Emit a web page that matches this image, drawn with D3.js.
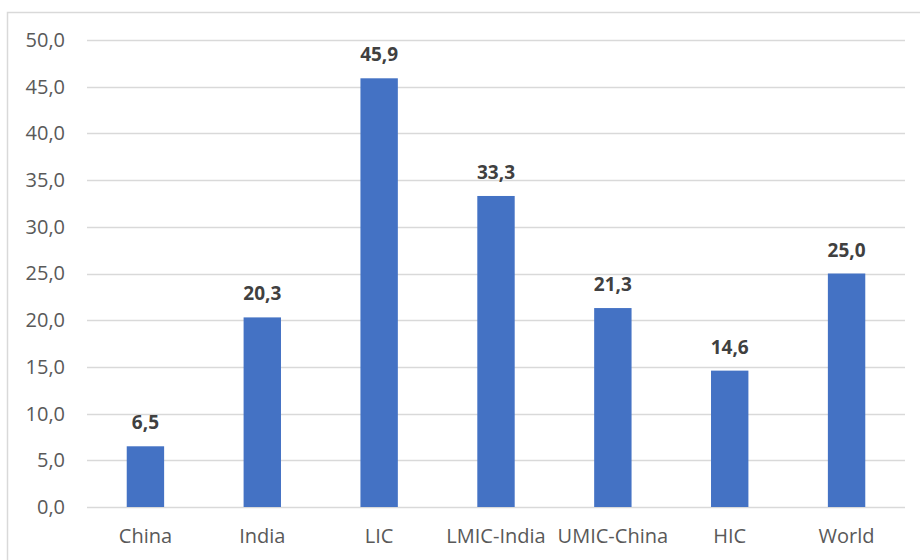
<!DOCTYPE html>
<html>
<head>
<meta charset="utf-8">
<script src="https://cdn.jsdelivr.net/npm/d3@7"></script>
<style>
  body { margin: 0; background: #fff; }
  svg { display: block; }
  svg text { font-family: "Open Sans", "Noto Sans", sans-serif; }
</style>
</head>
<body>
<svg id="chart"></svg>
<script>
// data
const categories = ["China", "India", "LIC", "LMIC-India", "UMIC-China", "HIC", "World"];
const values = [6.5, 20.3, 45.9, 33.3, 21.3, 14.6, 25.0];
const yTicks = [0, 5, 10, 15, 20, 25, 30, 35, 40, 45, 50];

const W = 920, H = 560;
const margin = { top: 40, right: 15, bottom: 53, left: 87 };
const width = W - margin.left - margin.right;
const height = H - margin.top - margin.bottom;

const fmt = (v) => v.toFixed(1).replace(".", ",");

const svg = d3.select("#chart").attr("width", W).attr("height", H);

// rahmen
svg.append("rect")
  .attr("x", 7.5).attr("y", 12.5)
  .attr("width", W).attr("height", H)
  .attr("fill", "none").attr("stroke", "#d9d9d9").attr("stroke-width", 1.5);

const g = svg.append("g").attr("transform", "translate(" + margin.left + "," + margin.top + ")");

const x = d3.scaleBand().domain(categories).range([0, width]).paddingInner(0.68).paddingOuter(0.34);
const y = d3.scaleLinear().domain([0, 50]).range([height, 0]);

// gitterlinien
g.selectAll(".grid")
  .data(yTicks)
  .enter()
  .append("line")
  .attr("x1", 0).attr("x2", width)
  .attr("y1", (d) => Math.round(y(d)) + 0.5)
  .attr("y2", (d) => Math.round(y(d)) + 0.5)
  .attr("stroke", "#d9d9d9").attr("stroke-width", 1.5);

// y-achse
const yAxis = g.append("g")
  .call(d3.axisLeft(y).tickValues(yTicks).tickFormat(fmt).tickSize(0).tickPadding(22));
yAxis.select(".domain").remove();
yAxis.selectAll("text").attr("fill", "#595959").style("font-size", "20px");

// x-achse
const xAxis = g.append("g")
  .attr("transform", "translate(0," + height + ")")
  .call(d3.axisBottom(x).tickSize(0).tickPadding(22));
xAxis.select(".domain").remove();
xAxis.selectAll("text").attr("fill", "#595959").style("font-size", "20px");

// balken
g.selectAll(".bar")
  .data(values)
  .enter()
  .append("rect")
  .attr("x", (d, i) => x(categories[i]))
  .attr("y", (d) => y(d))
  .attr("width", x.bandwidth())
  .attr("height", (d) => height - y(d))
  .attr("fill", "#4472c4");

// werte
g.selectAll(".val")
  .data(values)
  .enter()
  .append("text")
  .attr("x", (d, i) => x(categories[i]) + x.bandwidth() / 2)
  .attr("y", (d) => y(d) - 17)
  .attr("text-anchor", "middle")
  .attr("fill", "#404040")
  .style("font-size", "19px")
  .style("font-weight", "bold")
  .text(fmt);
</script>
</body>
</html>
